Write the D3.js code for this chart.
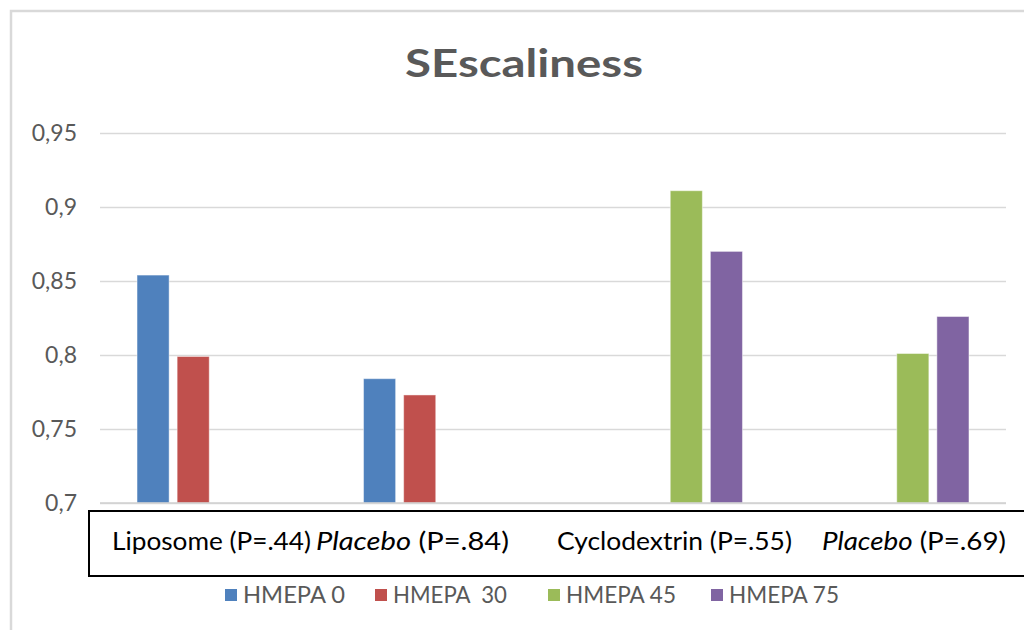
<!DOCTYPE html>
<html>
<head>
<meta charset="utf-8">
<script src="https://cdn.jsdelivr.net/npm/d3@7"></script>
<style>
  html, body { margin: 0; padding: 0; background: #fff; }
  svg { display: block; }
  text { font-family: Lato, "Open Sans", "Noto Sans", sans-serif; }
</style>
</head>
<body>
<svg id="chart" width="1024" height="630"></svg>
<script>
// Group names and their p-values (shown in the label strip under the plot)
const groups = ["Liposome", "Placebo", "Cyclodextrin", "Placebo"];
const pValues = [".44", ".84", ".55", ".69"];
const italicGroup = [false, true, false, true];

// Series
const seriesNames = ["HMEPA 0", "HMEPA  30", "HMEPA 45", "HMEPA 75"];
const hmepa0  = [0.854, 0.784, null, null];
const hmepa30 = [0.799, 0.773, null, null];
const hmepa45 = [null, null, 0.911, 0.801];
const hmepa75 = [null, null, 0.870, 0.826];

// Y axis ticks
const yTicks = [0.7, 0.75, 0.8, 0.85, 0.9, 0.95];

const colors = ["#4f81bd", "#c0504d", "#9bbb59", "#8064a2"];
const seriesValues = [hmepa0, hmepa30, hmepa45, hmepa75];

const svg = d3.select("#chart");

// Outer chart frame
svg.append("rect")
  .attr("x", 11).attr("y", 11)
  .attr("width", 1100).attr("height", 700)
  .attr("fill", "#fff")
  .attr("stroke", "#d9d9d9").attr("stroke-width", 2.5);

// Title
svg.append("text")
  .attr("x", 524).attr("y", 77)
  .attr("text-anchor", "middle")
  .attr("font-size", 39).attr("font-weight", 700)
  .attr("fill", "#595959")
  .attr("textLength", 238).attr("lengthAdjust", "spacingAndGlyphs")
  .text("SEscaliness");

const plot = { left: 100, right: 1006, top: 133, bottom: 503 };

const x0 = d3.scaleBand()
  .domain(d3.range(groups.length))
  .range([plot.left, plot.right])
  .paddingInner(0.327)
  .paddingOuter(0.1635);

const x1 = d3.scaleBand()
  .domain(d3.range(seriesNames.length))
  .range([0, x0.bandwidth()])
  .paddingInner(0.2);

const y = d3.scaleLinear()
  .domain([0.7, 0.95])
  .range([plot.bottom, plot.top]);

// Gridlines and tick labels
const yAxis = d3.axisLeft(y)
  .tickValues(yTicks)
  .tickSize(-(plot.right - plot.left))
  .tickPadding(23)
  .tickFormat(d => d3.format("")(d).replace(".", ","));

const gy = svg.append("g")
  .attr("transform", `translate(${plot.left},0)`)
  .call(yAxis);
gy.select(".domain").remove();
gy.selectAll(".tick line")
  .attr("stroke", "#d9d9d9").attr("stroke-width", 1.5);
gy.selectAll(".tick text")
  .attr("fill", "#595959")
  .attr("font-size", 23)
  .style("font-family", "Lato, 'Open Sans', sans-serif");

// Bars
const barData = [];
seriesValues.forEach((vals, s) => {
  vals.forEach((v, g) => {
    if (v != null) barData.push({ g, s, v });
  });
});

svg.append("g").selectAll("rect")
  .data(barData)
  .join("rect")
  .attr("x", d => x0(d.g) + x1(d.s))
  .attr("width", x1.bandwidth())
  .attr("y", d => y(d.v))
  .attr("height", d => y(0.7) - y(d.v))
  .attr("fill", d => colors[d.s])
  .attr("stroke", "#ffffff").attr("stroke-opacity", 0.45).attr("stroke-width", 1);

// Axis baseline
svg.append("line")
  .attr("x1", plot.left).attr("x2", plot.right)
  .attr("y1", y(0.7)).attr("y2", y(0.7))
  .attr("stroke", "#d0d0d0").attr("stroke-width", 1.5);

// Label strip with group names and p-values
svg.append("rect")
  .attr("x", 89).attr("y", 511)
  .attr("width", 960).attr("height", 65)
  .attr("fill", "#fff")
  .attr("stroke", "#000").attr("stroke-width", 2);

const labelStart = [112, 316, 557, 822];
const labelWidth = [199, 193, 235, 184];

groups.forEach((name, i) => {
  const t = svg.append("text")
    .attr("x", labelStart[i]).attr("y", 550)
    .attr("font-size", 25).attr("fill", "#000")
    .attr("textLength", labelWidth[i]).attr("lengthAdjust", "spacingAndGlyphs");
  t.append("tspan")
    .attr("font-style", italicGroup[i] ? "italic" : "normal")
    .text(name);
  t.append("tspan").text(` (P=${pValues[i]})`);
});

// Legend
const legendX = [225, 375, 548, 711];
const legendW = [102, 114, 110, 110];
const legend = svg.append("g");
seriesNames.forEach((name, i) => {
  legend.append("rect")
    .attr("x", legendX[i]).attr("y", 589)
    .attr("width", 12).attr("height", 12)
    .attr("fill", colors[i]);
  legend.append("text")
    .attr("x", legendX[i] + 18).attr("y", 603)
    .attr("font-size", 23).attr("fill", "#595959")
    .attr("textLength", legendW[i]).attr("lengthAdjust", "spacingAndGlyphs")
    .style("white-space", "pre")
    .text(name);
});
</script>
</body>
</html>
